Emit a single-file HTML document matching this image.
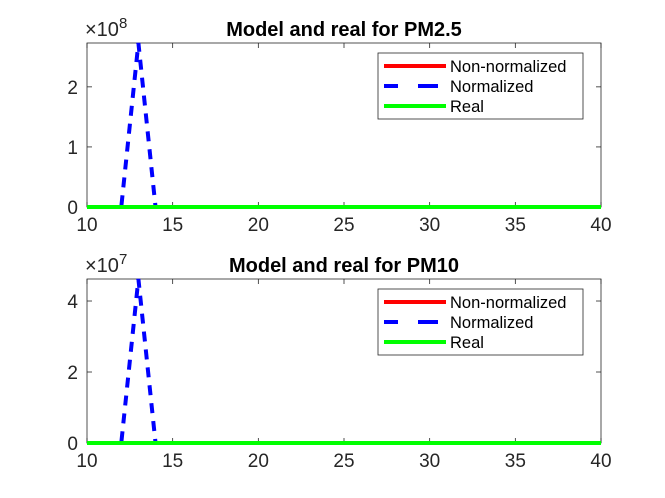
<!DOCTYPE html>
<html><head><meta charset="utf-8"><style>
body{margin:0;background:#fff;}
svg{display:block;font-family:"Liberation Sans","DejaVu Sans",sans-serif;}
</style></head><body>
<svg id="c" width="665" height="498" viewBox="0 0 665 498"></svg>
<script>
const xs = [10,11,12,13,14,15,16,17,18,19,20,21,22,23,24,25,26,27,28,29,30,31,32,33,34,35,36,37,38,39,40];
const pm25Model = [0,0,0,2.73e8,0,0,0,0,0,0,0,0,0,0,0,0,0,0,0,0,0,0,0,0,0,0,0,0,0,0,0];
const pm25Raw = [0,0,0,0,0,0,0,0,0,0,0,0,0,0,0,0,0,0,0,0,0,0,0,0,0,0,0,0,0,0,0];
const pm25Real = [0,0,0,0,0,0,0,0,0,0,0,0,0,0,0,0,0,0,0,0,0,0,0,0,0,0,0,0,0,0,0];
const pm10Model = [0,0,0,4.62e7,0,0,0,0,0,0,0,0,0,0,0,0,0,0,0,0,0,0,0,0,0,0,0,0,0,0,0];
const pm10Raw = [0,0,0,0,0,0,0,0,0,0,0,0,0,0,0,0,0,0,0,0,0,0,0,0,0,0,0,0,0,0,0];
const pm10Real = [0,0,0,0,0,0,0,0,0,0,0,0,0,0,0,0,0,0,0,0,0,0,0,0,0,0,0,0,0,0,0];
const xTicks = [10,15,20,25,30,35,40];
const yTicks1 = [0,1,2];
const yTicks2 = [0,2,4];
const titles = ["Model and real for PM2.5","Model and real for PM10"];
const legendLabels = ["Non-normalized","Normalized","Real"];

const NS="http://www.w3.org/2000/svg";
const svg=document.getElementById('c');
function mk(t,a,p){const e=document.createElementNS(NS,t);for(const k in a)e.setAttribute(k,a[k]);(p||svg).appendChild(e);return e;}

function panel(top,bot,ymax,scale,exp,yTicks,raw,model,real,title,idx){
  const L=87,R=601;
  const g=mk('g',{});
  
  
  const sx=v=>L+(v-10)/30*(R-L);
  const sy=v=>bot-v/ymax*(bot-top);
  const box=mk('rect',{x:L,y:top,width:R-L,height:bot-top,fill:'#fff',stroke:'#262626','stroke-width':0.8},g);
  
  xTicks.forEach(t=>{
    mk('line',{x1:sx(t),x2:sx(t),y1:bot,y2:bot-5,stroke:'#262626','stroke-width':0.8},g);
    mk('line',{x1:sx(t),x2:sx(t),y1:top,y2:top+5,stroke:'#262626','stroke-width':0.8},g);
    const tx=mk('text',{x:sx(t),y:bot+24,'font-size':19,'text-anchor':'middle',fill:'#262626'},g);
    tx.textContent=t;
    
  });
  yTicks.forEach(t=>{
    const y=sy(t*scale);
    mk('line',{x1:L,x2:L+5,y1:y,y2:y,stroke:'#262626','stroke-width':0.8},g);
    mk('line',{x1:R,x2:R-5,y1:y,y2:y,stroke:'#262626','stroke-width':0.8},g);
    const tx=mk('text',{x:L-9,y:y+7,'font-size':19,'text-anchor':'end',fill:'#262626'},g);
    tx.textContent=t;
    
  });
  const ex=mk('text',{x:85,y:top-7,'font-size':20,fill:'#262626'},g);
  ex.innerHTML='\u00d710<tspan dy="-8" font-size="15">'+exp+'</tspan>';
  
  const ti=mk('text',{x:344,y:top-7,'font-size':20,'font-weight':'bold','text-anchor':'middle',fill:'#000'},g);
  ti.textContent=title;
  
  const pts=arr=>arr.map((v,i)=>sx(xs[i])+','+Math.max(top,sy(v))).join(' ');
  const l1=mk('polyline',{points:pts(raw),fill:'none',stroke:'#ff0000','stroke-width':4},g);
  
  const l2=mk('polyline',{points:pts(model),fill:'none',stroke:'#0000ff','stroke-width':4,'stroke-dasharray':'10,8'},g);
  
  const l3=mk('polyline',{points:pts(real),fill:'none',stroke:'#00ff00','stroke-width':4},g);
  
  const lg=mk('g',{},g);
  
  const ly=top+10;
  mk('rect',{x:378,y:ly,width:205,height:66,fill:'#fff',stroke:'#262626','stroke-width':0.8},lg);
  const cols=['#ff0000','#0000ff','#00ff00'];
  legendLabels.forEach((lab,i)=>{
    const y=ly+13+i*20;
    const ln=mk('line',{x1:384,x2:446,y1:y,y2:y,stroke:cols[i],'stroke-width':4},lg);
    if(i===1) ln.setAttribute('stroke-dasharray','14,20,20');
    
    const t=mk('text',{x:450,y:y+6,'font-size':16.5,fill:'#000'},lg);
    t.textContent=lab;
    
  });
}
panel(43,207,2.73e8,1e8,8,yTicks1,pm25Raw,pm25Model,pm25Real,titles[0],0);
panel(279,443,4.62e7,1e7,7,yTicks2,pm10Raw,pm10Model,pm10Real,titles[1],1);
</script>
</body></html>
